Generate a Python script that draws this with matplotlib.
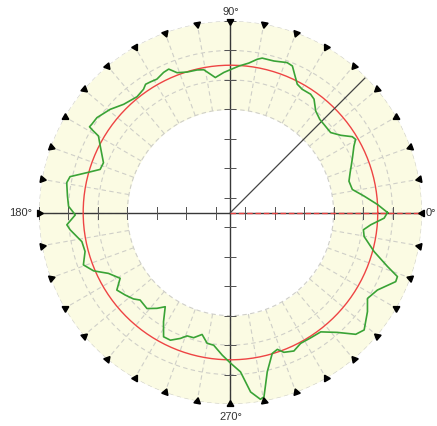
import numpy as np
import matplotlib
matplotlib.use("Agg")
import matplotlib.pyplot as plt
from matplotlib.markers import MarkerStyle
from matplotlib.transforms import Affine2D

# green measured profile (angle in degrees, radius)
angle_deg = [0, 3.1, 7.0, 10.7, 14.8, 18.4, 21.7, 24.2, 28.3, 30.3, 31.9, 35.0, 38.6,
             43.3, 46.2, 50.0, 53.6, 55.9, 59.8, 62.5, 65.1, 67.1, 69.3, 74.0, 78.4,
             80.1, 83.0, 86.7, 90.0, 92.7, 96.4, 98.2, 100.6, 103.2, 107.2, 110.9,
             113.3, 115.5, 118.9, 121.5, 123.5, 125.2, 128.9, 134.6, 139.4, 144.6,
             147.5, 148.7, 149.2, 149.9, 153.0, 158.6, 161.7, 164.5, 167.4, 169.7,
             174.3, 177.8, 180.0, 180.9, 184.3, 186.2, 191.1, 195.0, 199.6, 203.1,
             206.5, 210.8, 214.3, 218.1, 221.7, 224.1, 229.0, 232.5, 235.3, 238.5,
             241.7, 244.8, 248.3, 250.6, 253.6, 256.9, 259.9, 262.8, 266.7, 270.0,
             273.6, 276.4, 279.1, 280.3, 283.0, 286.5, 288.9, 290.9, 294.6, 298.2,
             302.6, 307.1, 311.7, 315.8, 318.7, 324.1, 327.9, 332.2, 337.3, 339.0,
             341.0, 344.8, 349.8, 352.6, 355.0, 357.9, 360.0]
radius = [4.83, 4.50, 4.07, 3.71, 3.66, 3.78, 3.92, 4.04, 4.26, 4.42, 4.37, 4.07, 3.85,
          3.86, 3.88, 4.00, 4.28, 4.35, 4.34, 4.41, 4.67, 4.90, 4.94, 4.85, 4.85,
          4.78, 4.61, 4.48, 4.35, 4.26, 4.11, 4.24, 4.43, 4.47, 4.49, 4.58,
          4.80, 4.77, 4.67, 4.70, 4.72, 4.62, 4.55, 4.66, 4.88, 5.06,
          5.08, 5.10, 4.94, 4.68, 4.46, 4.13, 4.16, 4.56, 5.08, 5.15,
          5.06, 5.00, 4.83, 4.77, 5.07, 4.97, 4.64, 4.61, 4.80, 4.55,
          4.13, 3.86, 4.17, 4.04, 3.91, 3.77, 3.82, 3.60, 3.39, 3.85,
          4.29, 4.29, 4.10, 3.94, 3.93, 3.75, 4.01, 4.04, 4.35, 4.61,
          4.92, 5.63, 5.92, 5.86, 5.05, 4.49, 4.41, 4.58, 4.67, 4.54,
          4.55, 4.58, 4.95, 5.43, 5.54, 5.24, 4.99, 5.14, 5.58, 5.57,
          5.14, 4.55, 4.11, 4.05, 4.28, 4.72, 4.83]

ref_radius = 4.5
pointer_deg = 45
pointer_len = 5.95
r_min, r_max = -0.5, 6
band = (3, 6)
grid_radii = [3, 4, 5, 6]
tick_radii = [0, 1, 2, 3, 4, 5, 6]
spoke_step = 10
axis_labels = {0: "0°", 90: "90°", 180: "180°", 270: "270°"}

fig = plt.figure(figsize=(4.37, 4.26), dpi=100)
ax = fig.add_axes([0.0892, 0.0516, 0.8764, 0.8991], projection="polar")
ax.set_ylim(r_min, r_max)
ax.grid(False)
ax.set_xticks([])
ax.set_yticks([])
ax.spines["polar"].set_visible(False)
ax.patch.set_alpha(0)

full = np.linspace(0, 2 * np.pi, 400)
ax.fill_between(full, band[0], band[1], color="#fbfbe3", lw=0, zorder=0)

grid_kw = dict(color="#cfcfc8", lw=0.8, ls=(0, (4, 3)), zorder=1)
for r in grid_radii:
    ax.plot(full, np.full_like(full, r), **grid_kw)
for a in range(0, 360, spoke_step):
    ax.plot([np.radians(a)] * 2, band, **grid_kw)

# crosshair axes with ticks (tick = short bar perpendicular to the arm)
for a in (0, 90, 180, 270):
    t = np.radians(a)
    ax.plot([t, t], [r_min, r_max], color="#383838", lw=1.0, zorder=3)
    mk = MarkerStyle("|", transform=Affine2D().rotate_deg(a))
    ax.plot([t] * len(tick_radii), tick_radii, ls="none", marker=mk, ms=8.5,
            mew=0.72, color="#555555", snap=True, zorder=3)

ax.plot([0, 0], [r_min, r_max], color="#e84040", lw=1.0, ls=(0, (4, 2)), zorder=4)

ax.plot(full, np.full_like(full, ref_radius), color="#ee4444", lw=1.0, zorder=4)

ax.plot([np.radians(pointer_deg)] * 2, [r_min, pointer_len], color="#444444",
        lw=0.9, zorder=4)

ax.plot(np.radians(angle_deg), radius, color="#3aa336", lw=1.2, zorder=5)

for a in range(0, 360, spoke_step):
    ax.plot(np.radians(a), r_max, marker=(3, 0, a + 90), ms=5.5, color="black",
            ls="none", clip_on=False, zorder=6)

lab_kw = dict(fontsize=8, color="#333333", family="Liberation Sans")
ax.text(np.radians(90), 6.3, axis_labels[90], ha="center", va="center", **lab_kw)
ax.text(np.radians(270), 6.45, axis_labels[270], ha="center", va="center", **lab_kw)
ax.text(np.radians(180), 6.25, axis_labels[180], ha="right", va="center", **lab_kw)
fig.text(0.999, 0.5, axis_labels[0], ha="right", va="center", **lab_kw)

fig.savefig("out.png", dpi=100, facecolor="white")
